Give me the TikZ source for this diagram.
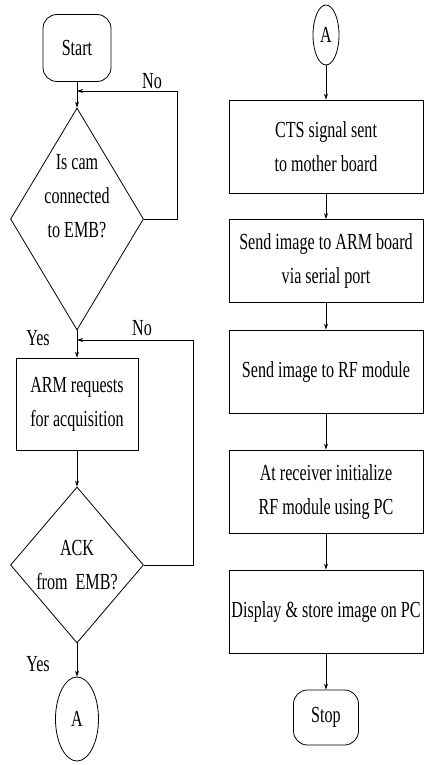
\documentclass[tikz,border=0pt]{standalone}
\usepackage{fontspec}
\setmainfont{Liberation Serif}[FakeStretch=0.7]
\usepackage{tikz}
\usetikzlibrary{arrows.meta, shapes.geometric}
\newcommand{\flowfont}{\fontsize{23}{34}\selectfont}

\begin{document}
\begin{tikzpicture}[x=1pt, y={(0pt,-1pt)}, line width=0.8pt,
  >={Stealth[length=6pt,width=4pt]},
  every node/.style={font=\flowfont, align=center},
  term/.style={draw, rounded corners=14pt, inner sep=2pt},
  proc/.style={draw, minimum width=194pt, minimum height=83pt, inner sep=2pt},
  decide/.style={draw, diamond, minimum width=133pt, inner sep=0pt},
  conn/.style={draw, ellipse, inner sep=0pt}]
\useasboundingbox (0,0) rectangle (424,765);
% left column
\node[term, minimum width=68pt, minimum height=67pt] (start) at (77,48) {Start};
\node[decide, aspect=0.62, minimum height=222pt] (cam) at (77,219)
  {\raisebox{16pt}[0pt][0pt]{\begin{tabular}{@{}c@{}}Is cam\\connected\\to EMB?\end{tabular}}};
\node[draw, minimum width=122pt, minimum height=92pt, inner sep=2pt] (req) at (77,404) {ARM requests\\for acquisition};
\node[decide, aspect=0.85, minimum height=156pt] (ack) at (77,565) {ACK\\from~~EMB?};
\node[conn, minimum width=43pt, minimum height=84pt] (outA) at (77,719) {A};
\node (yes1) at (38,338) {Yes};
\node (yes2) at (38,664) {Yes};
\node (no1) at (152,81) {No};
\node (no2) at (142,328) {No};
\coordinate (j1) at (77,91);
\coordinate (c1) at (177,91);
\coordinate (j2) at (77,340);
\coordinate (c2) at (193,340);
\draw[->] (start) -- (cam);
\draw[->] (cam.east) -| (c1) -- (j1);
\draw[->] (cam) -- (req);
\draw[->] (req) -- (ack);
\draw[->] (ack.east) -| (c2) -- (j2);
\draw[->] (ack) -- (outA);
% right column
\node[conn, minimum width=26pt, minimum height=60pt] (inA) at (326,35) {A};
\node[proc, minimum height=93pt] (cts) at (326,146.5) {CTS signal sent\\to mother board};
\node[proc] (ser) at (326,261) {Send image to ARM board\\via serial port};
\node[proc] (rf) at (326,371.5) {Send image to RF module};
\node[proc] (rx) at (326,491.5) {At receiver initialize\\RF module using PC};
\node[proc] (pc) at (326,611.5) {Display \& store image on PC};
\node[term, minimum width=65pt, minimum height=55pt] (stop) at (326,717.5) {Stop};
\draw[->] (inA) -- (cts);
\draw[->] (cts) -- (ser);
\draw[->] (ser) -- (rf);
\draw[->] (rf) -- (rx);
\draw[->] (rx) -- (pc);
\draw[->] (pc) -- (stop);
\end{tikzpicture}
\end{document}
